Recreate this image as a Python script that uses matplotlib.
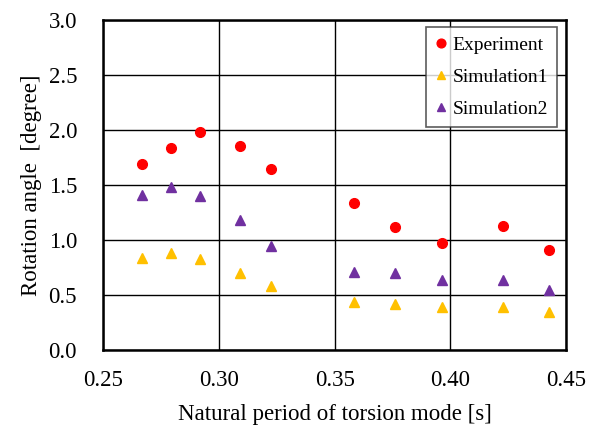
import matplotlib
matplotlib.use("Agg")
import matplotlib.pyplot as plt

plt.rcParams["font.family"] = ["Liberation Serif", "DejaVu Serif"]

# Natural period of torsion mode [s]
periods = [0.2665, 0.2792, 0.2917, 0.3089, 0.3224, 0.3585, 0.3762, 0.3963, 0.4229, 0.4427]
# Rotation angle [degree]
experiment = [1.69, 1.84, 1.985, 1.855, 1.65, 1.34, 1.12, 0.975, 1.13, 0.91]
simulation1 = [0.84, 0.88, 0.83, 0.70, 0.58, 0.435, 0.415, 0.395, 0.395, 0.345]
simulation2 = [1.41, 1.48, 1.405, 1.18, 0.95, 0.71, 0.70, 0.64, 0.64, 0.545]

x_ticks = [0.25, 0.30, 0.35, 0.40, 0.45]
y_ticks = [0.0, 0.5, 1.0, 1.5, 2.0, 2.5, 3.0]

fig = plt.figure(figsize=(5.91, 4.28), dpi=100)
ax = fig.add_axes([0.175, 0.182, 0.783, 0.771])

ax.plot(periods, experiment, linestyle="none", marker="o", markersize=7,
        color="#FF0000", label="Experiment", zorder=3)
ax.plot(periods, simulation1, linestyle="none", marker="^", markersize=7,
        color="#FFC000", label="Simulation1", zorder=3)
ax.plot(periods, simulation2, linestyle="none", marker="^", markersize=7,
        color="#7030A0", label="Simulation2", zorder=3)

ax.set_xlim(0.25, 0.45)
ax.set_ylim(0.0, 3.0)
ax.set_xticks(x_ticks)
ax.set_xticklabels([f"{v:.2f}" for v in x_ticks])
ax.set_yticks(y_ticks)
ax.set_yticklabels([f"{v:.1f}" for v in y_ticks])
ax.tick_params(length=0, labelsize=16.5)
ax.tick_params(axis="x", pad=14)
ax.tick_params(axis="y", pad=19)
ax.grid(True, color="black", linewidth=1.0)
ax.set_axisbelow(True)
for s in ax.spines.values():
    s.set_linewidth(1.8)
    s.set_color("black")

ax.set_xlabel("Natural period of torsion mode [s]", fontsize=16.5, labelpad=10)
ax.set_ylabel("Rotation angle  [degree]", fontsize=16.5, labelpad=5)

leg = ax.legend(loc="upper right", fontsize=14, frameon=True, fancybox=False,
                edgecolor="#333333", handlelength=0.6, handletextpad=0.3,
                borderpad=0.45, labelspacing=0.75, markerscale=0.9,
                borderaxespad=0, bbox_to_anchor=(0.98, 0.978))
leg.get_frame().set_linewidth(1.2)

fig.savefig("out.png", dpi=100)
